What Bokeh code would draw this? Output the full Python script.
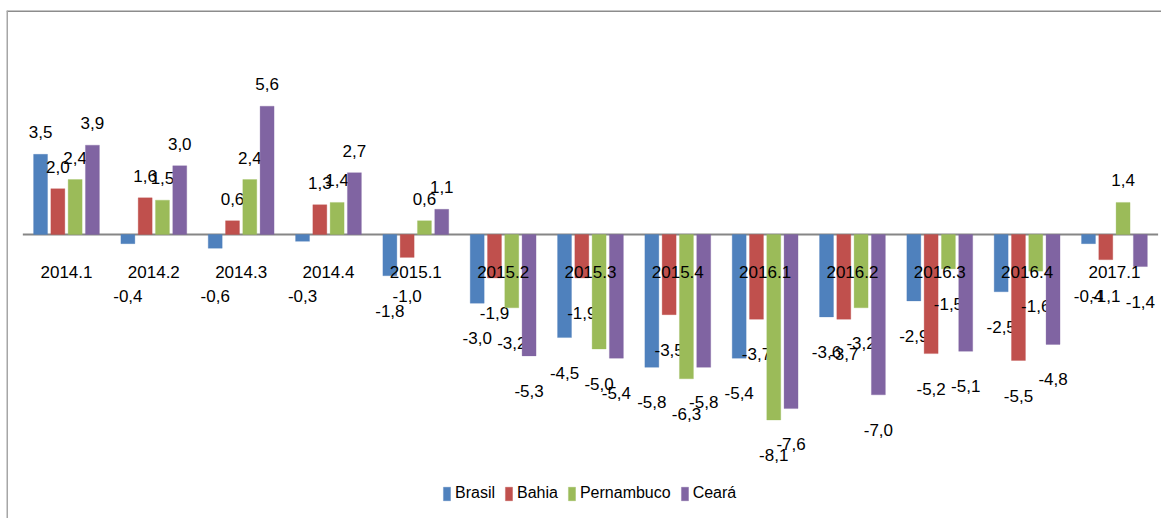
import numpy as np
from bokeh.plotting import figure
from bokeh.models import ColumnDataSource, Range1d, Span, Legend, LegendItem
from bokeh.core.properties import value
from bokeh.embed import file_html
from bokeh.resources import INLINE

categories = ["2014.1", "2014.2", "2014.3", "2014.4", "2015.1", "2015.2", "2015.3",
              "2015.4", "2016.1", "2016.2", "2016.3", "2016.4", "2017.1"]
brasil = [3.5, -0.4, -0.6, -0.3, -1.8, -3.0, -4.5, -5.8, -5.4, -3.6, -2.9, -2.5, -0.4]
bahia = [2.0, 1.6, 0.6, 1.3, -1.0, -1.9, -1.9, -3.5, -3.7, -3.7, -5.2, -5.5, -1.1]
pernambuco = [2.4, 1.5, 2.4, 1.4, 0.6, -3.2, -5.0, -6.3, -8.1, -3.2, -1.5, -1.6, 1.4]
ceara = [3.9, 3.0, 5.6, 2.7, 1.1, -5.3, -5.4, -5.8, -7.6, -7.0, -5.1, -4.8, -1.4]
series_names = ["Brasil", "Bahia", "Pernambuco", "Ceará"]

colors = ["#4F81BD", "#C0504D", "#9BBB59", "#8064A2"]
FONT = "Liberation Sans"

x_start, x_end = -0.687, 12.539
y_start, y_end = -12.40, 9.78

p = figure(width=1161, height=518, output_backend="svg", toolbar_location=None,
           x_range=Range1d(x_start, x_end), y_range=Range1d(y_start, y_end),
           min_border_left=6, min_border_right=0, min_border_top=10, min_border_bottom=0)
p.axis.visible = False
p.grid.visible = False
p.outline_line_color = None
p.background_fill_color = "white"
p.border_fill_color = "white"

idx = np.arange(len(categories))
step = 0.198
bw = 0.16
offsets = [-1.5 * step, -0.5 * step, 0.5 * step, 1.5 * step]

# zero line
p.segment(x0=[-0.5], y0=[0], x1=[len(categories) - 0.5], y1=[0],
          line_color="#868686", line_width=2.2)

items = []
for vals, name, col, off in zip([brasil, bahia, pernambuco, ceara], series_names, colors, offsets):
    v = np.array(vals)
    xs = idx + off
    src = ColumnDataSource(dict(x=xs, top=v))
    r = p.vbar(x="x", top="top", bottom=0, width=bw, source=src,
               fill_color=col, line_color=col, line_width=0.5, line_alpha=0.6)
    items.append(LegendItem(label=name, renderers=[r]))
    ly = np.where(v >= 0, v + 0.96, np.minimum(v - 1.53, -2.7))
    labels = [f"{a:.1f}".replace(".", ",") for a in v]
    lsrc = ColumnDataSource(dict(x=xs, y=ly, t=labels))
    p.text(x="x", y="y", text="t", source=lsrc, text_align="center",
           text_baseline="middle", text_font=value(FONT), text_font_size="17px",
           text_color="black")

# category labels just below the zero line
csrc = ColumnDataSource(dict(x=idx, y=np.zeros(len(categories)), t=categories))
p.text(x="x", y="y", text="t", source=csrc, text_align="center", text_baseline="middle",
       y_offset=38, text_font=value(FONT), text_font_size="17px", text_color="black")

# chart border (top and left)
p.add_layout(Span(location=y_end, dimension="width", line_color="#8c8c8c", line_width=3))
p.add_layout(Span(location=x_start, dimension="height", line_color="#a6a6a6", line_width=3))

legend = Legend(items=items, orientation="horizontal", location=(436, 16),
                glyph_width=9, glyph_height=17, label_height=17, label_standoff=4,
                spacing=9, padding=0, margin=0, border_line_color=None,
                background_fill_alpha=0, label_text_font=FONT,
                label_text_font_size="16px", label_text_color="black")
p.add_layout(legend, "center")

open("out.html", "w").write(file_html(p, INLINE))
